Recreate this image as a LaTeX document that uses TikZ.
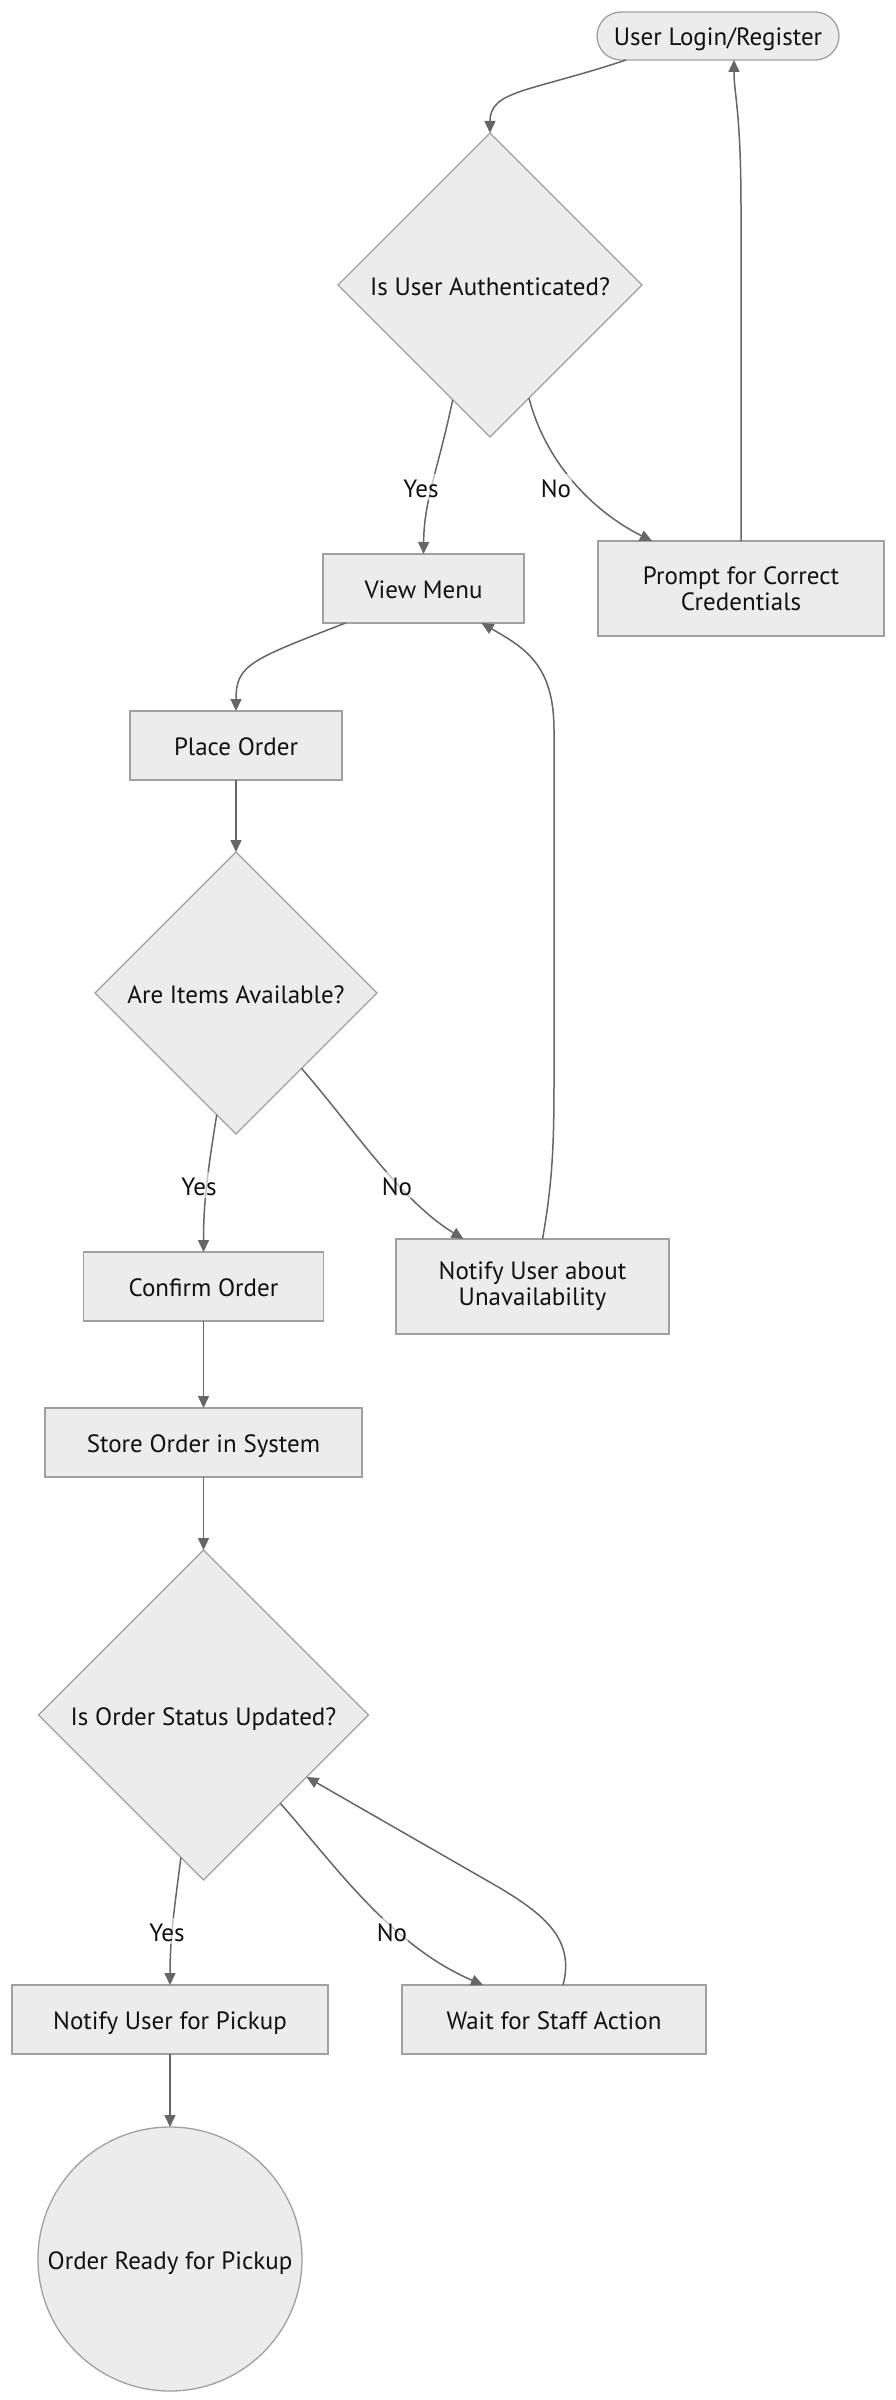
\documentclass[tikz,border=0pt]{standalone}
\usepackage{fontspec}
\setmainfont{PT Sans}
\usetikzlibrary{shapes.geometric,arrows.meta}

\definecolor{nodefill}{HTML}{ECECEC}
\definecolor{nodeline}{HTML}{A0A0A0}
\definecolor{flowline}{HTML}{666666}
\definecolor{inktext}{HTML}{111111}

\tikzset{every picture/.style={line width=1.5pt}}
\tikzset{
  procbox/.style={draw=nodeline, fill=nodefill, line width=1.3pt, inner sep=0pt, outer sep=0pt,
    align=center, text=inktext, font=\fontsize{25}{26}\selectfont},
  oneline/.style={text height=22pt, text depth=2pt},
  decision/.style={procbox, oneline, diamond, aspect=1},
  startpill/.style={procbox, oneline, rounded corners=24pt},
  endcircle/.style={procbox, oneline, circle},
  flow/.style={draw=flowline, line width=1.5pt, -{Triangle[length=12pt,width=11pt]}},
  flowlabel/.style={font=\fontsize{25}{26}\selectfont, text=inktext, fill=white, fill opacity=0.6,
    text opacity=1, inner sep=1pt, oneline}
}

\begin{document}
\begin{tikzpicture}[x=1pt,y=1pt,yscale=-1,xscale=1]
\useasboundingbox (0,0) rectangle (896,2400);

%Shape: Rounded Rectangle
\node[startpill, minimum width=242pt, minimum height=48pt] (login) at (718,36) {User Login/Register};
%Shape: Diamond
\node[decision, minimum width=304pt, minimum height=304pt] (auth) at (490,285) {Is User Authenticated?};
%Shape: Rectangle
\node[procbox, oneline, minimum width=201pt, minimum height=69pt] (menu) at (423.5,588.5) {View Menu};
%Shape: Rectangle
\node[procbox, minimum width=286pt, minimum height=95pt] (prompt) at (741,588.5) {Prompt for Correct\\Credentials};
%Shape: Rectangle
\node[procbox, oneline, minimum width=212pt, minimum height=69pt] (place) at (236,745.5) {Place Order};
%Shape: Diamond
\node[decision, minimum width=282pt, minimum height=282pt] (avail) at (236,993) {Are Items Available?};
%Shape: Rectangle
\node[procbox, oneline, minimum width=240pt, minimum height=69pt] (confirm) at (203.5,1286.5) {Confirm Order};
%Shape: Rectangle
\node[procbox, minimum width=273pt, minimum height=95pt] (unavail) at (532.5,1286.5) {Notify User about\\Unavailability};
%Shape: Rectangle
\node[procbox, oneline, minimum width=317pt, minimum height=69pt] (store) at (203.5,1442.5) {Store Order in System};
%Shape: Diamond
\node[decision, minimum width=330pt, minimum height=330pt] (status) at (203.5,1715) {Is Order Status Updated?};
%Shape: Rectangle
\node[procbox, oneline, minimum width=316pt, minimum height=69pt] (pickup) at (170,2019.5) {Notify User for Pickup};
%Shape: Rectangle
\node[procbox, oneline, minimum width=304pt, minimum height=69pt] (wait) at (554,2019.5) {Wait for Staff Action};
%Shape: Circle
\node[endcircle, minimum size=264pt] (ready) at (170,2259) {Order Ready for Pickup};

%Curve Lines
\draw[flow] ([xshift=-92pt]login.south) .. controls (530,92) and (490,90) .. (auth.north);
%Curve Lines
\draw[flow] (auth.252) .. controls (438,470) and (424,500) .. (menu.north);
%Curve Lines
\draw[flow] (auth.289) .. controls (545,460) and (590,510) .. ([xshift=-89pt]prompt.north);
%Curve Lines
\draw[flow] (prompt.north) -- (741,210) .. controls (741,110) and (734,95) .. ([xshift=16pt]login.south);
%Curve Lines
\draw[flow] ([xshift=-78pt]menu.south) .. controls (250,660) and (236,665) .. (place.north);
%Straight Lines
\draw[flow] (place.south) -- (avail.north);
%Curve Lines
\draw[flow] (avail.261) .. controls (208,1170) and (203.5,1200) .. (confirm.north);
%Curve Lines
\draw[flow] (avail.311) .. controls (355,1130) and (400,1200) .. ([xshift=-69pt]unavail.north);
%Curve Lines
\draw[flow] ([xshift=10pt]unavail.north) .. controls (553,1180) and (554,1140) .. (554,1080) -- (554,730)
  .. controls (554,665) and (525,648) .. ([xshift=58pt]menu.south);
%Straight Lines
\draw[flow] (confirm.south) -- (store.north);
%Straight Lines
\draw[flow] (store.south) -- (status.north);
%Curve Lines
\draw[flow] (status.261) .. controls (174,1910) and (170,1940) .. (pickup.north);
%Curve Lines
\draw[flow] (status.311) .. controls (335,1865) and (390,1945) .. ([xshift=-71pt]wait.north);
%Curve Lines
\draw[flow] ([xshift=9pt]wait.north) .. controls (575,1940) and (545,1915) .. (500,1888) -- (status.329);
%Straight Lines
\draw[flow] (pickup.south) -- (ready.north);

% Text Node
\node[flowlabel] (yesauth) at (421,487) {Yes};
% Text Node
\node[flowlabel] (noauth) at (556,487) {No};
% Text Node
\node[flowlabel] (yesavail) at (199,1185) {Yes};
% Text Node
\node[flowlabel] (noavail) at (397,1185) {No};
% Text Node
\node[flowlabel] (yesstatus) at (167,1931) {Yes};
% Text Node
\node[flowlabel] (nostatus) at (392,1931) {No};

\end{tikzpicture}
\end{document}
